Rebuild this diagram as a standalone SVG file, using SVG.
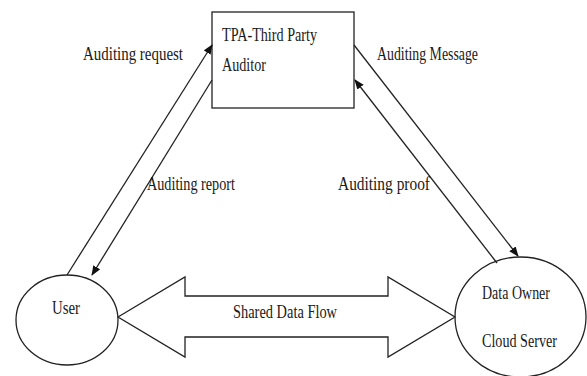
<svg xmlns="http://www.w3.org/2000/svg" width="587" height="376" viewBox="0 0 587 376">
<style>
.t{font-family:"Liberation Serif","Times New Roman",serif;font-size:19px;fill:#1a1a1a}
.s{fill:#fff;stroke:#222;stroke-width:1.3}
.c{stroke:#222;stroke-width:1.3;fill:none;marker-end:url(#ah)}
</style>
<defs>
<marker id="ah" markerWidth="10" markerHeight="8" refX="9" refY="4" orient="auto" markerUnits="userSpaceOnUse">
<path d="M0,0 L10,4 L0,8 Z" fill="#111"/>
</marker>
</defs>
<rect width="587" height="376" fill="#fff"/>
<g id="tpa">
<rect class="s" x="212" y="12" width="142" height="96"/>
<text class="t" x="222" y="41" textLength="95" lengthAdjust="spacingAndGlyphs">TPA-Third Party</text>
<text class="t" x="222" y="71" textLength="44" lengthAdjust="spacingAndGlyphs">Auditor</text>
</g>
<g id="user">
<ellipse class="s" cx="67" cy="320" rx="51" ry="45"/>
<text class="t" x="52" y="314" textLength="28" lengthAdjust="spacingAndGlyphs">User</text>
</g>
<g id="cloud">
<ellipse class="s" cx="520.5" cy="317" rx="65.5" ry="60"/>
<text class="t" x="482" y="299" textLength="68" lengthAdjust="spacingAndGlyphs">Data Owner</text>
<text class="t" x="482" y="347" textLength="75" lengthAdjust="spacingAndGlyphs">Cloud Server</text>
</g>
<g id="connectors">
<line class="c" x1="67" y1="275" x2="212" y2="45"/>
<line class="c" x1="212" y1="80" x2="92" y2="275"/>
<line class="c" x1="354" y1="45" x2="518" y2="256"/>
<line class="c" x1="497" y1="263" x2="355" y2="80"/>
<polygon class="s" points="118,317 185,277 185,296 388,296 388,277 455,317 388,357 388,337 185,337 185,357"/>
<text class="t" x="83" y="60" textLength="100" lengthAdjust="spacingAndGlyphs">Auditing request</text>
<text class="t" x="377" y="60" textLength="101" lengthAdjust="spacingAndGlyphs">Auditing Message</text>
<text class="t" x="147" y="190" textLength="88" lengthAdjust="spacingAndGlyphs">Auditing report</text>
<text class="t" x="338" y="190" textLength="92" lengthAdjust="spacingAndGlyphs">Auditing proof</text>
<text class="t" x="233" y="318" textLength="104" lengthAdjust="spacingAndGlyphs">Shared Data Flow</text>
</g>
</svg>
